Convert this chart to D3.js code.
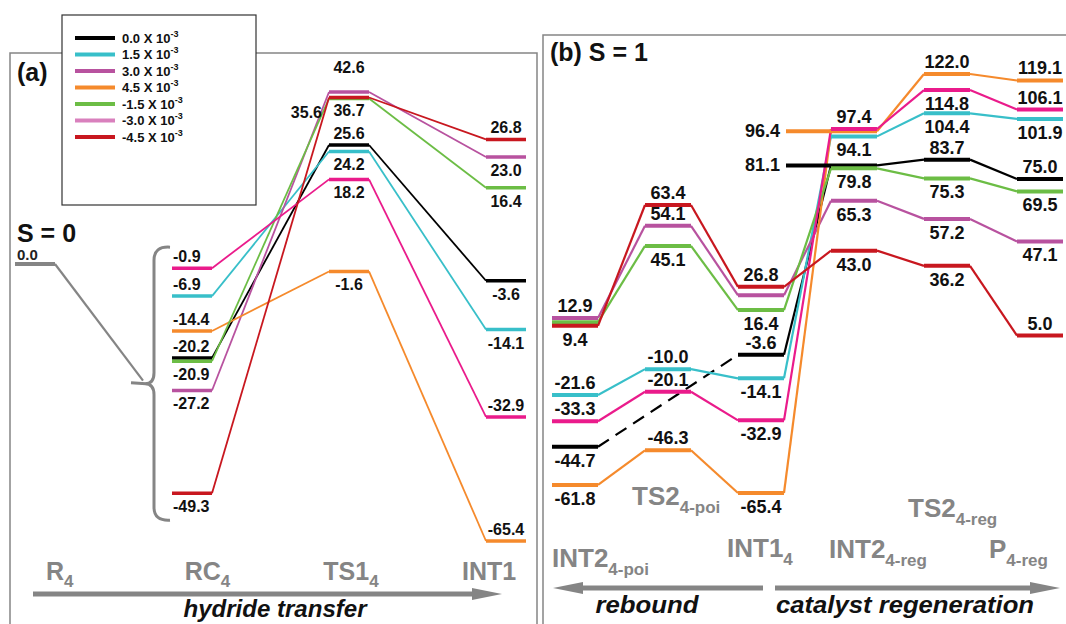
<!DOCTYPE html>
<html><head><meta charset="utf-8">
<script src="https://cdn.jsdelivr.net/npm/d3@7"></script>
<style>
body{margin:0;background:#fff}
svg{display:block}
text{font-family:"Liberation Sans",Arial,sans-serif;font-weight:bold}
</style>
</head><body>
<svg id="c" width="1066" height="624"></svg>
<script>
// ---------- DATA ----------
const seriesNames  = ["0.0","1.5","3.0","4.5","-1.5","-3.0","-4.5"];
const seriesColors = ["#000000","#38bfc9","#b8529f","#f58a2c","#6cbd45","#ea1b8b","#c8171f"];
const legendColors = ["#000000","#38bfc9","#b8529f","#f58a2c","#6cbd45","#d980bd","#c8171f"];

// panel (a) S = 0
const catsA   = ["R4","RC4","TS14","INT1"];
const catLabA = [["R","4"],["RC","4"],["TS1","4"],["INT1",""]];
const r4A     = 0.0;
const rc4A    = [-20.2, -6.9, -27.2, -14.4, -20.9,  -0.9, -49.3];
const ts14A   = [ 25.6, 24.2,  42.6,  -1.6,  35.6,  18.2,  36.7];
const int1A   = [ -3.6,-14.1,  23.0, -65.4,  16.4, -32.9,  26.8];

// panel (b) S = 1
const catsB     = ["INT2_4-poi","TS2_4-poi","INT1_4","INT2_4-reg","TS2_4-reg","P_4-reg"];
const catLabB   = [["INT2","4-poi"],["TS2","4-poi"],["INT1","4"],["INT2","4-reg"],["TS2","4-reg"],["P","4-reg"]];
const int2poiB  = [-44.7,-21.6, 12.9,-61.8, 11.0,-33.3,  9.4];
const ts2poiB   = [ null,-10.0, 54.1,-46.3, 45.1,-20.1, 63.4];
const int14B    = [ -3.6,-14.1, 23.0,-65.4, 16.4,-32.9, 26.8];
const int2regB  = [ 81.1, 94.1, 65.3, 96.4, 79.8, 97.4, 43.0];
const ts2regB   = [ 83.7,104.4, 57.2,122.0, 75.3,114.8, 36.2];
const p4regB    = [ 75.0,101.9, 47.1,119.1, 69.5,106.1,  5.0];

// label placement (a=above, b=below, h=high above, bl=below-left, l=left, ""=none)
const labPosA = [
  ["a","a","b","a","b","a","b"],
  ["a","b","h","b","bl","b","b"],
  ["b","b","b","a","b","a","a"]
];
const labPosB = [
  ["b","a","a","b","","a","b"],
  ["","a","a","a","b","a","a"],
  ["a","b","","b","b","b","a"],
  ["l","b","b","l","b","a","b"],
  ["a","b","b","a","b","b","b"],
  ["a","b","b","a","b","a","a"]
];

// ---------- LAYOUT ----------
const svg = d3.select("#c");
const grey = "#858585";

const xA = d3.scalePoint().domain(catsA).range([35, 506]);
const yA = d3.scaleLinear().domain([-65.4, -49.3, 35.6, 42.6]).range([541, 493.2, 98.5, 92]);
const xB = d3.scalePoint().domain(catsB).range([575, 1040]);
const yB = d3.scaleLinear().domain([-65.4, 122]).range([493, 74]);

// panel frames
svg.append("path").attr("d","M10,640 L10,53 L537,53 L537,640").attr("fill","none").attr("stroke",grey).attr("stroke-width",1.5);
svg.append("path").attr("d","M543,640 L543,35 L1070,35").attr("fill","none").attr("stroke",grey).attr("stroke-width",1.5);

// ---------- generic drawing ----------
function drawPanel(cats, vals, x, y, w, thick, thin, extendLeft) {
  const gC = svg.append("g"), gL = svg.append("g");
  seriesNames.forEach((s, si) => {
    const pts = cats.map((c, ci) => ({c, ci, v: vals[ci][si]})).filter(p => p.v != null);
    for (let k = 1; k < pts.length; k++) {
      const a = pts[k-1], b = pts[k];
      const gap = b.ci - a.ci > 1;
      gC.append("line")
        .attr("x1", x(a.c) + w/2).attr("y1", y(a.v))
        .attr("x2", x(b.c) - w/2).attr("y2", y(b.v))
        .attr("stroke", seriesColors[si]).attr("stroke-width", thin)
        .attr("stroke-dasharray", gap ? "13,8" : null);
    }
    pts.forEach(p => {
      let x1 = x(p.c) - w/2;
      if (extendLeft && extendLeft.some(e => e[0] === si && e[1] === p.c)) {
        x1 = x(cats[p.ci-1]) + w/2 + 2;
      }
      gL.append("line")
        .attr("x1", x1).attr("x2", x(p.c) + w/2)
        .attr("y1", y(p.v)).attr("y2", y(p.v))
        .attr("stroke", seriesColors[si]).attr("stroke-width", thick);
    });
  });
}

function drawLabels(cats, vals, pos, x, y, w, fs, below, leftAlign) {
  const g = svg.append("g").attr("font-size", fs + "px").attr("fill", "#111");
  cats.forEach((c, ci) => {
    seriesNames.forEach((s, si) => {
      const v = vals[ci][si], m = pos[ci][si];
      if (v == null || !m) return;
      let tx = x(c), ty = y(v), anchor = "middle";
      if (leftAlign && leftAlign.includes(c)) { tx = x(c) - w/2 + 1; anchor = "start"; }
      if (m === "a") ty -= 6;
      else if (m === "b") ty += below;
      else if (m === "h") ty -= 19;
      else if (m === "bl") { tx = x(c) - w/2 - 7; anchor = "end"; ty += below; }
      else if (m === "l") { tx = x(cats[ci-1]) + w/2 - 4; anchor = "end"; ty += 6; }
      g.append("text").attr("x", tx).attr("y", ty).attr("text-anchor", anchor).text(v.toFixed(1));
    });
  });
}

function catLabel(x, yb, parts, fs, sfs, sdy) {
  const t = svg.append("text").attr("x", x).attr("y", yb).attr("fill", grey).attr("font-size", fs + "px");
  t.append("tspan").text(parts[0]);
  if (parts[1]) t.append("tspan").attr("font-size", sfs + "px").attr("dy", sdy).text(parts[1]);
}

function arrow(xFrom, xTo, yy) {
  const dir = Math.sign(xTo - xFrom), headL = 30, headW = 6;
  svg.append("line").attr("x1", xFrom).attr("x2", xTo - dir*headL + dir*2).attr("y1", yy).attr("y2", yy)
     .attr("stroke", grey).attr("stroke-width", 5);
  svg.append("path").attr("d", `M${xTo},${yy} L${xTo - dir*headL},${yy - headW} L${xTo - dir*headL},${yy + headW} Z`)
     .attr("fill", grey);
}

// ---------- panel (a) ----------
const valsA = [rc4A, ts14A, int1A];
const catsA2 = catsA.slice(1);
const r4y = yA(r4A);
const braceTop = yA(d3.max(rc4A)) - 21, braceBot = yA(d3.min(rc4A)) + 27;
const braceMid = (braceTop + braceBot) / 2, bx = 154;
svg.append("path")
  .attr("d", `M${xA("R4")+20},${r4y} L${bx-11},${braceMid-3}`)
  .attr("stroke", grey).attr("stroke-width", 2.2).attr("fill", "none");
svg.append("line").attr("x1", xA("R4")-20).attr("x2", xA("R4")+20).attr("y1", r4y).attr("y2", r4y)
  .attr("stroke", grey).attr("stroke-width", 4);
svg.append("path")
  .attr("d", `M${bx+16},${braceTop} Q${bx},${braceTop-1} ${bx},${braceTop+13} L${bx},${braceMid-11}
             Q${bx},${braceMid} ${bx-9},${braceMid} Q${bx},${braceMid} ${bx},${braceMid+11}
             L${bx},${braceBot-13} Q${bx},${braceBot+1} ${bx+16},${braceBot}
             M${bx-23},${braceMid-1} L${bx-8},${braceMid}`)
  .attr("stroke", grey).attr("stroke-width", 3).attr("fill", "none");

drawPanel(catsA2, valsA, xA, yA, 40, 3.5, 1.8, null);
drawLabels(catsA2, valsA, labPosA, xA, yA, 40, 16, 19, ["RC4"]);

svg.append("text").attr("x", 17).attr("y", r4y - 4).attr("font-size", "15px").attr("fill", "#222").text(r4A.toFixed(1));
svg.append("text").attr("x", 17).attr("y", 81).attr("font-size", "25px").attr("fill", "#111").text("(a)");
svg.append("text").attr("x", 17).attr("y", 242).attr("font-size", "25px").attr("fill", "#111").text("S = 0");

const catTextXA = d3.scalePoint().domain(catsA).range([46, 462]);
catsA.forEach((c, i) => catLabel(catTextXA(c), 580, catLabA[i], 25, 17, 7));
arrow(33, 502, 594);
svg.append("text").attr("x", 275).attr("y", 617).attr("text-anchor", "middle").attr("font-size", "24px")
  .attr("font-style", "italic").attr("fill", "#111").attr("textLength", 183).attr("lengthAdjust", "spacingAndGlyphs")
  .text("hydride transfer");

// ---------- panel (b) ----------
const valsB = [int2poiB, ts2poiB, int14B, int2regB, ts2regB, p4regB];
drawPanel(catsB, valsB, xB, yB, 46, 4, 2.2, [[3, "INT2_4-reg"], [0, "INT2_4-reg"]]);
drawLabels(catsB, valsB, labPosB, xB, yB, 46, 18, 20, null);

svg.append("text").attr("x", 550).attr("y", 61).attr("font-size", "25px").attr("fill", "#111").text("(b) S = 1");

const catTextPosB = [[552, 567], [632, 505], [727, 557], [829, 558], [908, 517], [989, 558]];
catsB.forEach((c, i) => catLabel(catTextPosB[i][0], catTextPosB[i][1], catLabB[i], 26, 17, 8));
arrow(763, 553, 588);
arrow(775, 1060, 588);
svg.append("text").attr("x", 647).attr("y", 613).attr("text-anchor", "middle").attr("font-size", "24px")
  .attr("font-style", "italic").attr("fill", "#111").attr("textLength", 103).attr("lengthAdjust", "spacingAndGlyphs")
  .text("rebound");
svg.append("text").attr("x", 905).attr("y", 613).attr("text-anchor", "middle").attr("font-size", "24px")
  .attr("font-style", "italic").attr("fill", "#111").attr("textLength", 258).attr("lengthAdjust", "spacingAndGlyphs")
  .text("catalyst regeneration");

// ---------- legend ----------
const lg = svg.append("g");
lg.append("rect").attr("x", 62).attr("y", 15).attr("width", 194).attr("height", 190)
  .attr("fill", "#fff").attr("stroke", "#333").attr("stroke-width", 1.2);
const legY = d3.scalePoint().domain(seriesNames).range([38, 137]);
seriesNames.forEach((s, i) => {
  const yy = legY(s);
  lg.append("line").attr("x1", 75).attr("x2", 115).attr("y1", yy).attr("y2", yy)
    .attr("stroke", legendColors[i]).attr("stroke-width", 4);
  const t = lg.append("text").attr("x", 122).attr("y", yy + 4.5).attr("font-size", "13px").attr("fill", "#111");
  t.append("tspan").text(s + " X 10");
  t.append("tspan").attr("font-size", "9px").attr("dy", -6).text("-3");
});
</script>
</body></html>
